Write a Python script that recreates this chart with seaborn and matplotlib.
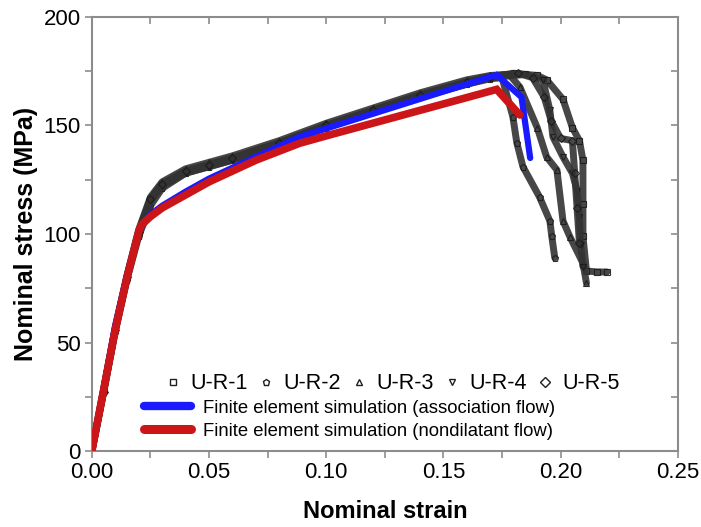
import matplotlib
matplotlib.use("Agg")
import matplotlib.pyplot as plt
from matplotlib.lines import Line2D
from matplotlib.ticker import MultipleLocator
import seaborn as sns
import pandas as pd

# ---------------- data ----------------
pre_strain = [0, 0.005, 0.01, 0.015, 0.02, 0.025, 0.03, 0.04, 0.05, 0.06, 0.08, 0.10, 0.12, 0.14, 0.16, 0.17]

ur1_strain = pre_strain + [0.18, 0.19, 0.194, 0.201, 0.205, 0.208, 0.2095, 0.2095, 0.2095, 0.211, 0.2154, 0.2197]
ur1_stress = [0, 28, 56, 80, 101, 116, 123, 129, 132, 135, 142, 150, 157, 164, 170, 172.5,
              174, 173, 171, 162, 149, 143, 134, 114, 99, 83, 82.5, 82.5]

ur2_strain = pre_strain + [0.175, 0.1796, 0.1813, 0.1839, 0.191, 0.1954, 0.1962, 0.1975]
ur2_stress = [0, 27, 55, 79, 99, 113, 121, 128, 131, 134, 141, 149, 156, 163, 169, 171.5,
              172, 154, 142, 131, 117, 106, 99, 89]

ur3_strain = pre_strain + [0.178, 0.1826, 0.190, 0.194, 0.1984, 0.201, 0.204, 0.2095, 0.211]
ur3_stress = [0, 28, 57, 81, 102, 117, 124, 130, 133, 136, 143, 151, 158, 165, 171, 173,
              173.5, 167.7, 149, 135.5, 129.5, 106, 98.6, 86.6, 77.4]

ur4_strain = pre_strain + [0.185, 0.1924, 0.1954, 0.1967, 0.201, 0.205, 0.207, 0.208, 0.2085, 0.2095]
ur4_stress = [0, 28, 56, 80, 100, 115, 122, 128, 131, 134, 141, 149, 156, 163, 169, 172,
              173.5, 171, 157, 144.7, 135.5, 128, 120, 108, 95, 85]

ur5_strain = pre_strain + [0.182, 0.188, 0.193, 0.196, 0.200, 0.205, 0.206, 0.207, 0.208]
ur5_stress = [0, 27, 56, 80, 101, 116, 123, 129, 132, 135, 142, 150, 157, 164, 170, 172.5,
              174, 172, 163, 152, 144, 143, 128, 112, 96]

blue_strain = [0, 0.005, 0.01, 0.015, 0.02, 0.025, 0.03, 0.04, 0.05, 0.07, 0.0887, 0.10, 0.13, 0.15, 0.1727, 0.1833, 0.187]
blue_stress = [0, 29, 58, 81, 101.5, 109, 113, 119.5, 125.5, 135.5, 144.8, 148.6, 158.8, 165.6, 173.3, 163, 135]

red_strain = [0, 0.005, 0.01, 0.015, 0.02, 0.021, 0.025, 0.03, 0.04, 0.05, 0.07, 0.0887, 0.10, 0.13, 0.15, 0.1727, 0.1826]
red_stress = [0, 28, 56, 80, 101, 104, 108, 112, 118, 124, 134, 141.8, 145.2, 154, 159.9, 166.6, 154.8]

exp_names = ["U-R-1", "U-R-2", "U-R-3", "U-R-4", "U-R-5"]
exp_markers = ["s", "p", "^", "v", "D"]
sim_names = ["Finite element simulation (association flow)",
             "Finite element simulation (nondilatant flow)"]

# ---------------- plot ----------------
sns.set_style("white")
plt.rcParams["font.family"] = ["Liberation Sans", "DejaVu Sans"]
plt.rcParams["text.color"] = "black"
plt.rcParams["axes.labelcolor"] = "black"

fig = plt.figure(figsize=(7.01, 5.27), dpi=100)
ax = fig.add_axes([0.131, 0.144, 0.836, 0.824])

exp_data = [(ur1_strain, ur1_stress), (ur2_strain, ur2_stress), (ur3_strain, ur3_stress),
            (ur4_strain, ur4_stress), (ur5_strain, ur5_stress)]
gray = "#333333"
for (xs, ys), name, mk in zip(exp_data, exp_names, exp_markers):
    df = pd.DataFrame({"strain": xs, "stress": ys})
    sns.lineplot(data=df, x="strain", y="stress", ax=ax, sort=False, estimator=None,
                 color=gray, lw=5.0, alpha=0.9, marker=mk, markersize=4.5,
                 markerfacecolor="none", markeredgecolor="#1a1a1a", markeredgewidth=0.8,
                 zorder=2, legend=False)

sns.lineplot(x=blue_strain, y=blue_stress, ax=ax, sort=False, estimator=None,
             color="#1a1aff", lw=4.5, zorder=3, legend=False, solid_joinstyle="miter")
sns.lineplot(x=red_strain, y=red_stress, ax=ax, sort=False, estimator=None,
             color="#cc1518", lw=5.5, zorder=4, legend=False, solid_joinstyle="miter")

ax.set_xlim(0, 0.25)
ax.set_ylim(0, 200)
ax.xaxis.set_major_locator(MultipleLocator(0.05))
ax.xaxis.set_minor_locator(MultipleLocator(0.025))
ax.yaxis.set_major_locator(MultipleLocator(50))
ax.yaxis.set_minor_locator(MultipleLocator(25))
ax.set_xticks([0, 0.05, 0.10, 0.15, 0.20, 0.25])
ax.set_xticklabels(["0.00", "0.05", "0.10", "0.15", "0.20", "0.25"])

spine_col = "#8c8c8c"
for s in ax.spines.values():
    s.set_color(spine_col)
    s.set_linewidth(1.5)
ax.tick_params(which="both", direction="out", color=spine_col, width=1.2, labelcolor="black",
               bottom=True, left=True, top=False, right=False)
ax.tick_params(which="major", length=5, labelsize=16, pad=3)
ax.tick_params(which="minor", length=5)

secx = ax.secondary_xaxis("top")
secx.xaxis.set_major_locator(MultipleLocator(0.05))
secx.xaxis.set_minor_locator(MultipleLocator(0.025))
secx.tick_params(which="both", direction="in", length=5, color=spine_col, width=1.2, labeltop=False)
secx.spines["top"].set_visible(False)
secy = ax.secondary_yaxis("right")
secy.yaxis.set_major_locator(MultipleLocator(50))
secy.yaxis.set_minor_locator(MultipleLocator(25))
secy.tick_params(which="both", direction="in", length=5, color=spine_col, width=1.2, labelright=False)
secy.spines["right"].set_visible(False)

ax.set_xlabel("Nominal strain", fontsize=17, fontweight="bold", labelpad=12)
ax.set_ylabel("Nominal stress (MPa)", fontsize=18, fontweight="bold", labelpad=4)

# legends
exp_handles = [Line2D([], [], ls="none", marker=mk, markersize=5, markerfacecolor="none",
                      markeredgecolor="#202020", markeredgewidth=1.0) for mk in exp_markers]
leg1 = ax.legend(exp_handles, exp_names, loc="lower left", bbox_to_anchor=(0.113, 0.111),
                 ncol=5, frameon=False, fontsize=15.5, handlelength=0.6, handletextpad=0.5,
                 columnspacing=0.55, borderaxespad=0)
ax.add_artist(leg1)
sim_handles = [Line2D([], [], color="#1a1aff", lw=6, solid_capstyle="round"),
               Line2D([], [], color="#cc1518", lw=6.5, solid_capstyle="round")]
ax.legend(sim_handles, sim_names, loc="lower left", bbox_to_anchor=(0.077, 0.009),
          frameon=False, fontsize=13.3, handlelength=2.5, handletextpad=0.7,
          labelspacing=0.32, borderaxespad=0)

fig.savefig("out.png", dpi=100)
